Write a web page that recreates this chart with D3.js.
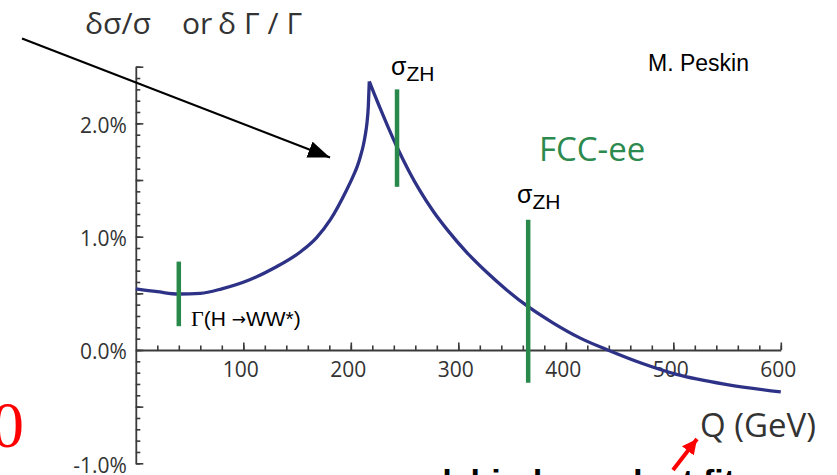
<!DOCTYPE html>
<html>
<head>
<meta charset="utf-8">
<script src="https://cdn.jsdelivr.net/npm/d3@7"></script>
<style>
  body { margin: 0; background: #fff; }
  svg { display: block; }
</style>
</head>
<body>
<svg id="chart"></svg>
<script>
// curve: Q in GeV, relative error in %
const curveQ = [0, 20, 40, 60, 80, 106, 130, 153, 168, 181, 196, 202, 206, 209, 211.5, 213.5, 215, 216.3, 217.2,
  222, 227, 235, 243.5, 254, 264, 277, 290, 308, 326, 345, 365, 388, 413, 439, 470, 503, 550, 600];
const curveV = [0.54, 0.515, 0.494, 0.50, 0.54, 0.62, 0.73, 0.865, 0.99, 1.15, 1.41, 1.53, 1.62, 1.71, 1.80, 1.90, 2.0, 2.15, 2.37,
  2.255, 2.14, 1.96, 1.78, 1.58, 1.41, 1.22, 1.058, 0.86, 0.69, 0.53, 0.382, 0.24, 0.107, 0.0, -0.115, -0.215, -0.305, -0.37];
const peakQ = 217.2;

// green measurement bars
const markerQ = [40, 243, 365];
const markerLow = [0.21, 1.44, -0.29];
const markerHigh = [0.78, 2.30, 1.15];

// axes
const xTickValues = [100, 200, 300, 400, 500, 600];
const xTickLabels = ["100", "200", "300", "400", "500", "600"];
const yLabelValues = [2, 1, 0, -1];
const yTickLabels = ["2.0%", "1.0%", "0.0%", "-1.0%"];

const width = 837;
const height = 475;

const svg = d3.select("#chart")
    .attr("width", width)
    .attr("height", height)
    .style("background", "#fff");

const x = d3.scaleLinear().domain([0, 600]).range([135.8, 780.8]);
const y = d3.scaleLinear().domain([-1, 2.5]).range([463.3, 66.7]);

const axisColor = "#3a3a3a";
const sans = "'Open Sans', sans-serif";
const arial = "'Liberation Sans', Arial, sans-serif";

// arrow heads
const defs = svg.append("defs");
defs.append("marker")
    .attr("id", "headBlack")
    .attr("markerUnits", "userSpaceOnUse")
    .attr("markerWidth", 26)
    .attr("markerHeight", 20)
    .attr("refX", 22)
    .attr("refY", 8.5)
    .attr("orient", "auto")
  .append("path")
    .attr("d", "M0,0 L22,8.5 L0,17 Z")
    .attr("fill", "#000");
defs.append("marker")
    .attr("id", "headRed")
    .attr("markerUnits", "userSpaceOnUse")
    .attr("markerWidth", 18)
    .attr("markerHeight", 18)
    .attr("refX", 15)
    .attr("refY", 7.5)
    .attr("orient", "auto")
  .append("path")
    .attr("d", "M0,0 L15,7.5 L0,15 Z")
    .attr("fill", "#ff0000");

// y axis, minor ticks every 0.1 and longer ticks every 0.5
const yMinor = d3.range(-10, 26).map(function(d) { return d / 10; });
const yMajor = d3.range(-2, 6).map(function(d) { return d / 2; });

svg.append("g")
    .attr("transform", "translate(" + x(0) + ",0)")
    .call(d3.axisLeft(y).tickValues(yMinor).tickSizeInner(-4.5).tickSizeOuter(0).tickFormat(""))
    .call(function(g) { g.select(".domain").remove(); })
    .selectAll("line")
    .attr("stroke", axisColor)
    .attr("stroke-width", 1.6);

const yAxis = svg.append("g")
    .attr("transform", "translate(" + x(0) + ",0)")
    .call(d3.axisLeft(y)
        .tickValues(yMajor)
        .tickSizeInner(-7.5)
        .tickSizeOuter(0)
        .tickPadding(9)
        .tickFormat(function(d) {
          const i = yLabelValues.indexOf(d);
          return i < 0 ? "" : yTickLabels[i];
        }));
yAxis.select(".domain").attr("stroke", axisColor).attr("stroke-width", 1.8);
yAxis.selectAll("line").attr("stroke", axisColor).attr("stroke-width", 1.6);
yAxis.selectAll("text")
    .attr("dy", "0.42em")
    .style("font-family", sans)
    .style("font-size", "21px")
    .attr("fill", "#333");

// x axis along the zero line, ticks pointing up
const xMinor = d3.range(1, 31).map(function(d) { return d * 20; });

svg.append("g")
    .attr("transform", "translate(0," + y(0) + ")")
    .call(d3.axisBottom(x).tickValues(xMinor).tickSizeInner(-4.5).tickSizeOuter(0).tickFormat(""))
    .call(function(g) { g.select(".domain").remove(); })
    .selectAll("line")
    .attr("stroke", axisColor)
    .attr("stroke-width", 1.6);

const xAxis = svg.append("g")
    .attr("transform", "translate(0," + y(0) + ")")
    .call(d3.axisBottom(x)
        .tickValues(xTickValues)
        .tickSizeInner(-7.5)
        .tickSizeOuter(0)
        .tickPadding(12)
        .tickFormat(function(d, i) { return xTickLabels[i]; }));
xAxis.select(".domain").attr("stroke", axisColor).attr("stroke-width", 1.8);
xAxis.selectAll("line").attr("stroke", axisColor).attr("stroke-width", 1.6);
xAxis.selectAll("text")
    .attr("x", -3)
    .style("font-family", sans)
    .style("font-size", "21px")
    .attr("fill", "#333");

// the curve, split at the cusp so the peak stays sharp
const points = curveQ.map(function(q, i) { return [q, curveV[i]]; });
const line = d3.line()
    .x(function(d) { return x(d[0]); })
    .y(function(d) { return y(d[1]); })
    .curve(d3.curveMonotoneX);

svg.append("path")
    .attr("d", line(points.filter(function(d) { return d[0] <= peakQ; })) +
        line(points.filter(function(d) { return d[0] >= peakQ; })))
    .attr("fill", "none")
    .attr("stroke", "#2e3286")
    .attr("stroke-width", 3.3);

// green bars
svg.selectAll(".marker")
    .data(markerQ)
    .enter()
    .append("line")
    .attr("class", "marker")
    .attr("x1", function(d) { return x(d); })
    .attr("x2", function(d) { return x(d); })
    .attr("y1", function(d, i) { return y(markerHigh[i]); })
    .attr("y2", function(d, i) { return y(markerLow[i]); })
    .attr("stroke", "#28894a")
    .attr("stroke-width", 4.5);

// title, three pieces spaced as in the original
const title = svg.append("g")
    .style("font-family", sans)
    .style("font-size", "30px")
    .attr("fill", "#333");
title.append("text").attr("x", 85).attr("y", 34)
    .attr("textLength", 66).attr("lengthAdjust", "spacingAndGlyphs").text("δσ/σ");
title.append("text").attr("x", 182).attr("y", 34).text("or");
title.append("text").attr("x", 218).attr("y", 34)
    .attr("textLength", 84).attr("lengthAdjust", "spacing").text("δΓ/Γ");

// sigma_ZH labels
const sigmaPos = [[391, 75], [517, 203]];
sigmaPos.forEach(function(p) {
  const t = svg.append("text")
      .attr("x", p[0])
      .attr("y", p[1])
      .style("font-family", arial)
      .attr("fill", "#000");
  t.append("tspan").style("font-size", "25px").text("σ");
  t.append("tspan").attr("dy", 5.5).style("font-size", "21px").text("ZH");
});

svg.append("text")
    .attr("x", 539)
    .attr("y", 161)
    .style("font-family", sans)
    .style("font-size", "33px")
    .attr("fill", "#2d8a4e")
    .text("FCC-ee");

svg.append("text")
    .attr("x", 648)
    .attr("y", 71)
    .style("font-family", arial)
    .style("font-size", "23px")
    .attr("fill", "#000")
    .text("M. Peskin");

const gammaLabel = svg.append("text")
    .attr("x", 191)
    .attr("y", 326)
    .style("font-family", arial)
    .style("font-size", "21px")
    .attr("fill", "#000");
gammaLabel.append("tspan").style("font-family", "'Liberation Serif', serif").style("font-size", "22px").text("Γ");
gammaLabel.append("tspan").text("(H ");
gammaLabel.append("tspan").style("font-family", "'DejaVu Sans', sans-serif").style("font-size", "17px").attr("dy", -1).text("→");
gammaLabel.append("tspan").attr("dy", 1).text("WW*)");

svg.append("text")
    .attr("x", 700)
    .attr("y", 437)
    .style("font-family", sans)
    .style("font-size", "33px")
    .attr("fill", "#333")
    .text("Q (GeV)");

// overlay arrows and text from the slide
svg.append("line")
    .attr("x1", 22)
    .attr("y1", 38.5)
    .attr("x2", 330)
    .attr("y2", 157.5)
    .attr("stroke", "#000")
    .attr("stroke-width", 2.2)
    .attr("marker-end", "url(#headBlack)");

svg.append("line")
    .attr("x1", 673)
    .attr("y1", 470)
    .attr("x2", 697)
    .attr("y2", 439)
    .attr("stroke", "#ff0000")
    .attr("stroke-width", 4)
    .attr("marker-end", "url(#headRed)");

svg.append("text")
    .attr("x", 24)
    .attr("y", 447)
    .attr("text-anchor", "end")
    .style("font-family", "'Liberation Serif', serif")
    .style("font-size", "65px")
    .attr("fill", "#ff0000")
    .text("10");

svg.append("text")
    .attr("x", 735)
    .attr("y", 493)
    .attr("text-anchor", "end")
    .style("font-family", arial)
    .style("font-size", "34px")
    .style("font-weight", "bold")
    .attr("fill", "#000")
    .text("model-independent fit");
</script>
</body>
</html>
